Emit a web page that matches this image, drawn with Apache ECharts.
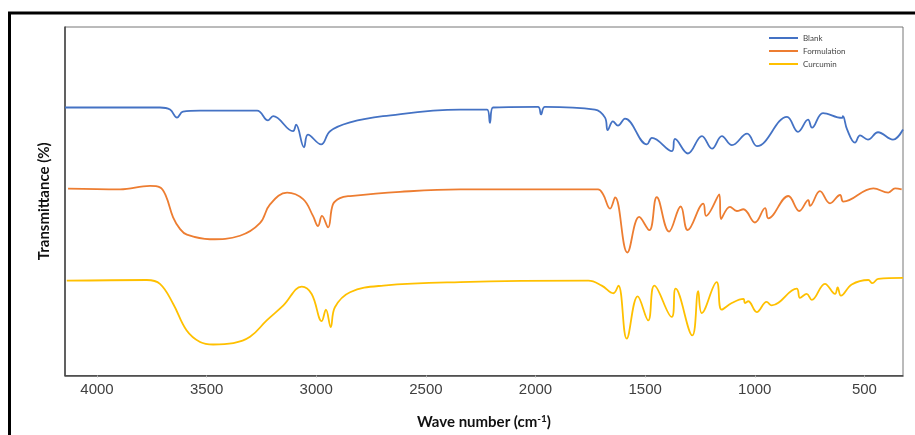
<!DOCTYPE html>
<html>
<head>
<meta charset="utf-8">
<script src="https://cdn.jsdelivr.net/npm/echarts@6/dist/echarts.min.js"></script>
<style>
  html, body { margin: 0; padding: 0; background: #fff; }
  #chart { width: 915px; height: 435px; }
</style>
</head>
<body>
<div id="chart"></div>
<script>
// FTIR spectra, wavenumber (cm-1) vs transmittance (stacked, arbitrary offset)
var blankWave = [4146, 3713, 3667, 3635, 3608, 3530, 3270, 3220, 3197, 3106, 3092, 3056, 3038, 2978, 2937, 2846, 2696, 2344, 2221, 2208, 2194, 1989, 1975, 1957, 1729, 1683, 1671, 1647, 1624, 1592, 1492, 1469, 1378, 1364, 1305, 1241, 1195, 1150, 1104, 1035, 990, 853, 803, 757, 739, 689, 602, 598, 579, 543, 520, 484, 438, 370, 324];
var blankT = [76.9, 76.9, 76.3, 74.0, 75.7, 76.0, 76.0, 73.2, 74.4, 70.1, 72.0, 65.5, 69.1, 66.3, 70.1, 72.6, 74.4, 76.3, 76.3, 72.5, 76.9, 77.1, 74.9, 77.1, 76.3, 74.0, 70.4, 72.9, 71.7, 73.7, 66.3, 68.2, 64.4, 67.9, 63.7, 68.7, 65.1, 68.7, 66.1, 69.4, 65.8, 74.2, 69.9, 73.4, 71.1, 75.3, 73.9, 74.4, 70.6, 66.8, 68.9, 67.7, 69.8, 67.7, 70.6];

var formWave = [4132, 3895, 3758, 3713, 3685, 3653, 3621, 3590, 3485, 3348, 3257, 3211, 3133, 3060, 3015, 2992, 2974, 2946, 2924, 2892, 2846, 2618, 2344, 1715, 1692, 1660, 1637, 1581, 1527, 1481, 1447, 1391, 1338, 1306, 1235, 1222, 1162, 1154, 1113, 1082, 1052, 999, 953, 938, 847, 797, 756, 748, 703, 657, 611, 596, 459, 391, 360, 330];
var formT = [53.6, 53.4, 54.4, 54.0, 51.4, 45.4, 42.0, 40.4, 39.1, 40.1, 43.7, 49.1, 52.5, 50.6, 45.8, 42.9, 45.8, 42.5, 49.1, 50.9, 51.5, 52.7, 53.4, 53.4, 52.0, 47.9, 51.1, 35.3, 45.5, 41.7, 51.2, 41.3, 48.5, 41.7, 49.3, 45.8, 52.0, 44.9, 48.4, 47.2, 47.7, 43.9, 48.0, 45.1, 51.5, 47.2, 50.3, 48.7, 52.9, 49.4, 51.8, 49.9, 53.7, 52.5, 53.7, 53.4];

var curcWave = [4138, 3773, 3713, 3653, 3591, 3530, 3470, 3378, 3302, 3226, 3150, 3066, 3021, 2975, 2956, 2934, 2915, 2846, 2694, 2344, 1759, 1698, 1645, 1622, 1584, 1534, 1486, 1458, 1379, 1361, 1285, 1258, 1242, 1174, 1151, 1105, 1052, 1045, 1030, 991, 946, 923, 809, 794, 763, 740, 680, 634, 622, 607, 558, 482, 464, 437, 324];
var curcT = [27.2, 27.4, 26.3, 20.6, 12.9, 9.6, 8.9, 9.3, 11.1, 15.8, 20.1, 25.5, 23.4, 15.6, 18.9, 13.9, 19.6, 23.9, 25.8, 26.8, 27.2, 25.8, 23.6, 25.8, 10.6, 22.7, 15.8, 25.8, 16.8, 24.9, 11.5, 24.2, 17.9, 26.8, 18.9, 20.8, 22.0, 20.8, 21.3, 18.2, 21.1, 20.1, 24.9, 22.3, 23.4, 21.7, 26.3, 23.4, 25.3, 22.9, 26.1, 27.4, 26.5, 27.7, 28.0];

var tickValues = [4000, 3500, 3000, 2500, 2000, 1500, 1000, 500];

function pairs(xs, ys) {
  return xs.map(function (x, i) { return [x, ys[i]]; });
}

var chart = echarts.init(document.getElementById('chart'));

function lineSeries(name, color, xs, ys) {
  return {
    name: name,
    type: 'line',
    data: pairs(xs, ys),
    smooth: 0.4,
    symbol: 'none',
    lineStyle: { color: color, width: 1.8 },
    itemStyle: { color: color }
  };
}

chart.setOption({
  animation: false,
  graphic: [{
    type: 'rect',
    shape: { x: 9.5, y: 13, width: 920, height: 440 },
    style: { fill: 'none', stroke: '#000', lineWidth: 3 },
    silent: true
  }],
  grid: { left: 65, right: 12, top: 27, bottom: 58, show: true, borderColor: '#777', borderWidth: 1 },
  legend: {
    orient: 'vertical',
    left: 764,
    top: 29,
    icon: 'rect',
    itemWidth: 29,
    itemHeight: 2,
    itemGap: 5,
    textStyle: { fontSize: 8, color: '#444', fontFamily: 'Lato' },
    data: ['Blank', 'Formulation', 'Curcumin']
  },
  xAxis: {
    type: 'value',
    inverse: true,
    min: 324,
    max: 4146,
    name: 'Wave number (cm{sup|-1})',
    nameLocation: 'middle',
    nameGap: 38,
    nameTextStyle: {
      fontFamily: 'Lato', fontWeight: 'bold', fontSize: 15, color: '#111',
      rich: { sup: { fontFamily: 'Lato', fontWeight: 'bold', fontSize: 10, color: '#111', verticalAlign: 'top', padding: [0, 0, 8, 0] } }
    },
    axisLine: { lineStyle: { color: '#444', width: 1.5 } },
    axisTick: { show: true, length: 2, lineStyle: { color: '#bbb' }, customValues: tickValues },
    axisLabel: {
      customValues: tickValues,
      formatter: function (v) { return String(v); },
      fontFamily: 'Liberation Sans', fontSize: 15, color: '#404040', margin: 7
    },
    splitLine: { show: false }
  },
  yAxis: {
    type: 'value',
    min: 0,
    max: 100,
    name: 'Transmittance (%)',
    nameLocation: 'middle',
    nameGap: 13,
    nameRotate: 90,
    nameTextStyle: { fontFamily: 'Lato', fontWeight: 'bold', fontSize: 15, color: '#111' },
    axisLine: { show: true, lineStyle: { color: '#444', width: 1.5 } },
    axisTick: { show: false },
    axisLabel: { show: false },
    splitLine: { show: false }
  },
  series: [
    lineSeries('Blank', '#4472C4', blankWave, blankT),
    lineSeries('Formulation', '#ED7D31', formWave, formT),
    lineSeries('Curcumin', '#FFC000', curcWave, curcT)
  ]
});
</script>
</body>
</html>
